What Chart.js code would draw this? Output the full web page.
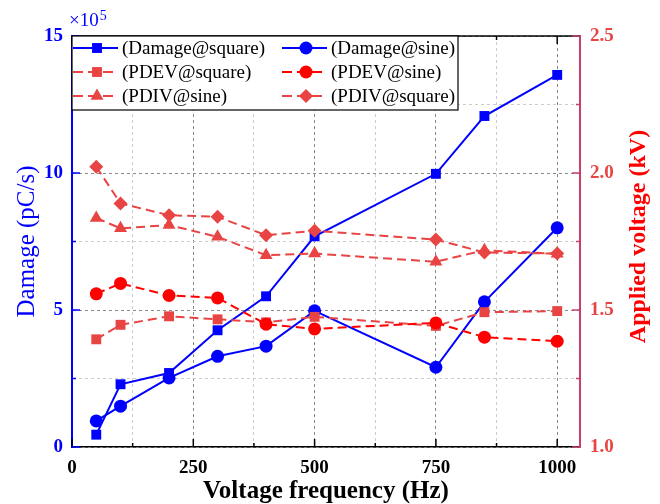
<!DOCTYPE html>
<html><head><meta charset="utf-8">
<script src="https://cdn.jsdelivr.net/npm/chart.js@4.4.0/dist/chart.umd.min.js"></script>
<style>html,body{margin:0;padding:0;background:#fff;} canvas{display:block;}</style>
</head><body>
<canvas id="c" width="660" height="504"></canvas>
<script>
const frequencies = [50, 100, 200, 300, 400, 500, 750, 850, 1000];
const damageSquare = [0.45, 2.29, 2.70, 4.26, 5.50, 7.69, 9.97, 12.08, 13.58];
const damageSine = [0.95, 1.49, 2.52, 3.31, 3.68, 4.97, 2.91, 5.30, 8.00];
const pdevSquare = [1.393, 1.446, 1.477, 1.466, 1.455, 1.475, 1.442, 1.492, 1.496];
const pdevSine = [1.559, 1.597, 1.553, 1.544, 1.448, 1.431, 1.453, 1.401, 1.386];
const pdivSine = [1.836, 1.798, 1.810, 1.767, 1.700, 1.706, 1.676, 1.718, 1.705];
const pdivSquare = [2.023, 1.889, 1.846, 1.840, 1.773, 1.789, 1.757, 1.710, 1.706];
const seriesLabels = ['(Damage@square)', '(Damage@sine)', '(PDEV@square)', '(PDEV@sine)', '(PDIV@sine)', '(PDIV@square)'];
const xTickValues = [0, 125, 250, 375, 500, 625, 750, 875, 1000];
const xTickLabels = ['0', '', '250', '', '500', '', '750', '', '1000'];
const leftTickValues = [0, 2.5, 5, 7.5, 10, 12.5, 15];
const leftTickLabels = ['0', '', '5', '', '10', '', '15'];
const rightTickValues = [1.0, 1.25, 1.5, 1.75, 2.0, 2.25, 2.5];
const rightTickLabels = ['1.0', '', '1.5', '', '2.0', '', '2.5'];
const xTitle = 'Voltage frequency (Hz)';
const leftTitle = 'Damage (pC/s)';
const rightTitle = 'Applied voltage (kV)';

const FONT = "'Liberation Serif', 'Times New Roman', serif";
const BLUE = '#0000ff';
const RED = '#ff0000';
const LRED = '#e84444';
const RAXIS = '#c8406a';

const pts = arr => frequencies.map((f, i) => ({x: f, y: arr[i]}));

function ds(label, arr, axis, color, style, radius, dashed, order) {
  return {
    label, data: pts(arr), yAxisID: axis,
    borderColor: color, backgroundColor: color,
    borderWidth: 2, borderDash: dashed ? [9, 5] : [],
    pointStyle: style, pointRadius: radius, pointHoverRadius: radius,
    pointBorderWidth: 0, pointBackgroundColor: color,
    tension: 0, order
  };
}

const datasets = [
  ds(seriesLabels[0], damageSquare, 'y', BLUE, 'rect', 7, false, 5),
  ds(seriesLabels[1], damageSine, 'y', BLUE, 'circle', 6.5, false, 5),
  ds(seriesLabels[2], pdevSquare, 'y1', LRED, 'rect', 7, true, 4),
  ds(seriesLabels[3], pdevSine, 'y1', RED, 'circle', 6.5, true, 3),
  ds(seriesLabels[4], pdivSine, 'y1', LRED, 'triangle', 7.5, true, 4),
  ds(seriesLabels[5], pdivSquare, 'y1', LRED, 'rectRot', 7, true, 3)
];

function marker(ctx, style, x, y, r, color) {
  ctx.save();
  ctx.fillStyle = color;
  ctx.setLineDash([]);
  ctx.beginPath();
  if (style === 'rect') {
    const s = r * Math.SQRT1_2;
    ctx.rect(x - s, y - s, 2 * s, 2 * s);
  } else if (style === 'circle') {
    ctx.arc(x, y, r, 0, Math.PI * 2);
  } else if (style === 'triangle') {
    let a = 0;
    ctx.moveTo(x + Math.sin(a) * r, y - Math.cos(a) * r);
    a += 2 * Math.PI / 3;
    ctx.lineTo(x + Math.sin(a) * r, y - Math.cos(a) * r);
    a += 2 * Math.PI / 3;
    ctx.lineTo(x + Math.sin(a) * r, y - Math.cos(a) * r);
    ctx.closePath();
  } else if (style === 'rectRot') {
    ctx.moveTo(x, y - r); ctx.lineTo(x + r, y); ctx.lineTo(x, y + r); ctx.lineTo(x - r, y);
    ctx.closePath();
  }
  ctx.fill();
  ctx.restore();
}

const framePlugin = {
  id: 'frame',
  afterDraw(chart) {
    const {ctx, chartArea: a, scales} = chart;
    const xs = scales.x, yl = scales.y, yr = scales.y1;
    ctx.save();
    ctx.setLineDash([]);
    // top border
    ctx.strokeStyle = '#000'; ctx.lineWidth = 1.5;
    ctx.beginPath(); ctx.moveTo(a.left, a.top); ctx.lineTo(a.right, a.top); ctx.stroke();
    // x ticks (bottom and top, inward)
    xTickValues.forEach((v, i) => {
      const px = xs.getPixelForValue(v);
      const len = xTickLabels[i] ? 8 : 4;
      ctx.beginPath();
      ctx.moveTo(px, a.bottom); ctx.lineTo(px, a.bottom - len);
      ctx.moveTo(px, a.top); ctx.lineTo(px, a.top + len);
      ctx.stroke();
    });
    // left ticks
    ctx.strokeStyle = BLUE;
    leftTickValues.forEach((v, i) => {
      const py = yl.getPixelForValue(v);
      const len = leftTickLabels[i] ? 8 : 4;
      ctx.beginPath(); ctx.moveTo(a.left, py); ctx.lineTo(a.left + len, py); ctx.stroke();
    });
    // right ticks
    ctx.strokeStyle = RAXIS;
    rightTickValues.forEach((v, i) => {
      const py = yr.getPixelForValue(v);
      const len = rightTickLabels[i] ? 8 : 4;
      ctx.beginPath(); ctx.moveTo(a.right, py); ctx.lineTo(a.right - len, py); ctx.stroke();
    });
    // right title (reads bottom to top)
    ctx.save();
    ctx.translate(639, (a.top + a.bottom) / 2 - 5);
    ctx.rotate(-Math.PI / 2);
    ctx.fillStyle = RED;
    ctx.font = "bold 24px " + FONT;
    ctx.textAlign = 'center'; ctx.textBaseline = 'middle';
    ctx.fillText(rightTitle, 0, 0);
    ctx.restore();
    // x10^5 multiplier
    ctx.fillStyle = BLUE;
    ctx.textAlign = 'left'; ctx.textBaseline = 'alphabetic';
    ctx.font = "19px " + FONT;
    ctx.fillText('\u00d710', a.left - 3, 26);
    const w = ctx.measureText('\u00d710').width;
    ctx.font = "14px " + FONT;
    ctx.fillText('5', a.left - 3 + w + 1, 20);

    // legend
    const lx = a.left, ly = a.top, lw = 386, lh = 74;
    ctx.fillStyle = '#fff';
    ctx.fillRect(lx, ly, lw, lh);
    ctx.strokeStyle = '#000'; ctx.lineWidth = 1.2;
    ctx.strokeRect(lx, ly, lw, lh);
    const rowY = [12, 36, 60];
    const colX = [1, 210];
    chart.data.datasets.forEach((d, i) => {
      const row = Math.floor(i / 2), col = i % 2;
      const x0 = lx + colX[col], y0 = ly + rowY[row];
      ctx.save();
      ctx.strokeStyle = d.borderColor; ctx.lineWidth = 2;
      ctx.setLineDash(d.borderDash && d.borderDash.length ? [10, 5] : []);
      ctx.beginPath(); ctx.moveTo(x0, y0); ctx.lineTo(x0 + 45, y0); ctx.stroke();
      ctx.restore();
      marker(ctx, d.pointStyle, x0 + 24, y0, d.pointRadius, d.borderColor);
      ctx.fillStyle = '#000';
      ctx.font = "19px " + FONT;
      ctx.textAlign = 'left'; ctx.textBaseline = 'middle';
      ctx.fillText(d.label, x0 + 49, y0 + 1);
    });
    ctx.restore();
  }
};

new Chart(document.getElementById('c'), {
  type: 'line',
  data: {datasets},
  plugins: [framePlugin],
  options: {
    responsive: false,
    animation: false,
    devicePixelRatio: 1,
    layout: {padding: {top: 36, left: 0, right: 0, bottom: 0}},
    plugins: {legend: {display: false}, tooltip: {enabled: false}},
    scales: {
      x: {
        type: 'linear', min: 0, max: 1047,
        afterBuildTicks: s => { s.ticks = xTickValues.map(v => ({value: v})); },
        afterFit: s => { s.height = 57; },
        ticks: {
          autoSkip: false, maxRotation: 0, padding: 10, color: '#000',
          font: {family: FONT, size: 19, weight: 'bold'},
          callback: (v, i) => xTickLabels[i]
        },
        grid: {
          drawTicks: false, lineWidth: 1,
          color: c => (c.tick && c.tick.value % 250 === 0) ? '#8a8a8a' : '#cccccc'
        },
        border: {display: true, color: '#000', width: 1.5, dash: [3, 3]},
        title: {
          display: true, text: xTitle, color: '#000',
          font: {family: FONT, size: 25, weight: 'bold', lineHeight: 1.0},
          padding: 0
        }
      },
      y: {
        type: 'linear', position: 'left', min: 0, max: 15,
        afterBuildTicks: s => { s.ticks = leftTickValues.map(v => ({value: v})); },
        afterFit: s => { s.width = 72; },
        ticks: {
          autoSkip: false, padding: 9, color: BLUE,
          font: {family: FONT, size: 19, weight: 'bold'},
          callback: (v, i) => leftTickLabels[i]
        },
        grid: {
          drawTicks: false, lineWidth: 1,
          color: c => (c.tick && c.tick.value % 5 === 0) ? '#8a8a8a' : '#cccccc'
        },
        border: {display: true, color: BLUE, width: 2, dash: [3, 3]},
        title: {
          display: true, text: leftTitle, color: BLUE,
          font: {family: FONT, size: 25, weight: 'normal', lineHeight: 1.2},
          padding: {top: 12}
        }
      },
      y1: {
        type: 'linear', position: 'right', min: 1.0, max: 2.5,
        afterBuildTicks: s => { s.ticks = rightTickValues.map(v => ({value: v})); },
        afterFit: s => { s.width = 80; },
        ticks: {
          autoSkip: false, padding: 10, color: LRED,
          font: {family: FONT, size: 19, weight: 'bold'},
          callback: (v, i) => rightTickLabels[i]
        },
        grid: {drawOnChartArea: false, drawTicks: false},
        border: {display: true, color: RAXIS, width: 2}
      }
    }
  }
});
</script>
</body></html>
